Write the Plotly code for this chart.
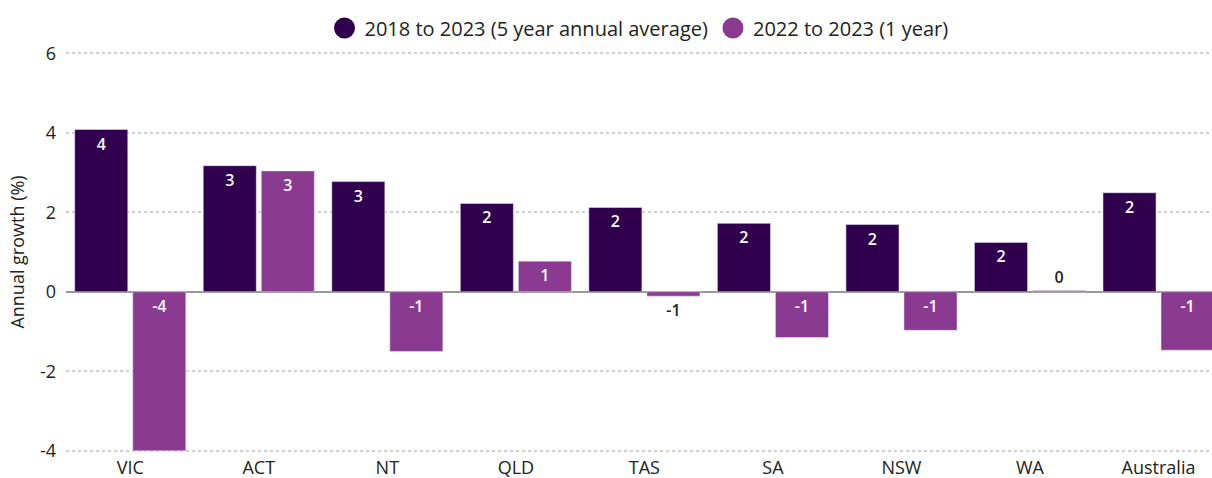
import plotly.graph_objects as go

# Annual growth by state / territory
regions = ["VIC", "ACT", "NT", "QLD", "TAS", "SA", "NSW", "WA", "Australia"]
five_year_avg = [4.08, 3.17, 2.77, 2.22, 2.12, 1.72, 1.69, 1.24, 2.49]
one_year = [-4.0, 3.04, -1.50, 0.77, -0.11, -1.15, -0.97, 0.03, -1.47]

# Published bar labels
five_year_labels = ["4", "3", "3", "2", "2", "2", "2", "2", "2"]
one_year_labels = ["-4", "3", "-1", "1", "-1", "-1", "-1", "0", "-1"]

series_names = ["2018 to 2023 (5 year annual average)", "2022 to 2023 (1 year)"]
colors = ["#30004F", "#8A3B91"]
y_ticks = [-4, -2, 0, 2, 4, 6]

FONT = "Open Sans"
TEXT_DARK = "#222222"

fig = go.Figure()

bar_common = dict(
    textposition="auto",
    insidetextfont=dict(family=FONT, size=16, color="white", weight=600),
    outsidetextfont=dict(family=FONT, size=16, color=TEXT_DARK, weight=600),
    cliponaxis=False,
    hoverinfo="skip",
    showlegend=False,
)

# 5-year average (all positive): label near the bar end
fig.add_trace(go.Bar(
    x=regions, y=five_year_avg, text=five_year_labels,
    marker=dict(color=colors[0]), offsetgroup="a",
    insidetextanchor="end", **bar_common,
))

# 1-year growth, split by sign so labels sit next to the baseline/top
pos_y = [v if v >= 0 else None for v in one_year]
pos_t = [t if v >= 0 else "" for v, t in zip(one_year, one_year_labels)]
neg_y = [v if v < 0 else None for v in one_year]
neg_t = [t if v < 0 else "" for v, t in zip(one_year, one_year_labels)]

fig.add_trace(go.Bar(
    x=regions, y=pos_y, text=pos_t,
    marker=dict(color=colors[1]), offsetgroup="b",
    insidetextanchor="end", **bar_common,
))
fig.add_trace(go.Bar(
    x=regions, y=neg_y, text=neg_t,
    marker=dict(color=colors[1]), offsetgroup="b",
    insidetextanchor="start", **bar_common,
))

# Circular legend keys
for name, col in zip(series_names, colors):
    fig.add_trace(go.Scatter(
        x=[regions[0]], y=[None], mode="markers", name=name,
        marker=dict(symbol="circle", size=16, color=col,
                    line=dict(color=col, width=5)),
        hoverinfo="skip",
    ))

fig.update_layout(
    width=1212, height=478,
    margin=dict(l=66, r=0, t=52, b=26),
    paper_bgcolor="white", plot_bgcolor="white",
    barmode="group", bargap=0.097, bargroupgap=0.086,
    font=dict(family=FONT, size=17, color=TEXT_DARK),
    legend=dict(
        orientation="h", x=0.5, xanchor="center", y=1.06, yanchor="middle",
        font=dict(family=FONT, size=20, color=TEXT_DARK),
        itemsizing="trace", bgcolor="rgba(0,0,0,0)",
    ),
    uniformtext=dict(mode=False),
)

fig.update_xaxes(
    range=[-0.5, 8.416], showgrid=False, showline=False, ticks="",
    tickfont=dict(family=FONT, size=18, color=TEXT_DARK),
    ticklabelstandoff=3, fixedrange=True,
)
fig.update_yaxes(
    # small padding so the gridlines at -4 and 6 are still drawn
    range=[-4.03, 6.03], tickvals=y_ticks, ticktext=[str(v) for v in y_ticks],
    showgrid=True, gridcolor="#cfcfcf", gridwidth=2, griddash="dot",
    zeroline=True, zerolinecolor="#999999", zerolinewidth=2,
    showline=False, ticks="",
    tickfont=dict(family=FONT, size=18, color=TEXT_DARK),
    ticklabelstandoff=9,
    title=dict(text="Annual growth (%)", standoff=10,
               font=dict(family=FONT, size=18, color=TEXT_DARK)),
    fixedrange=True,
)

fig.write_html("out.html")
